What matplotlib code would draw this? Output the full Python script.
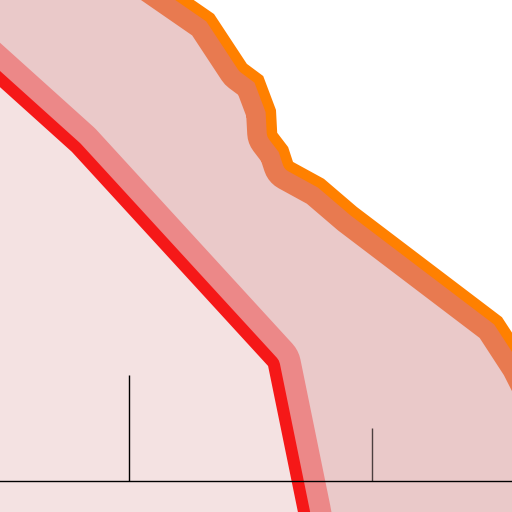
"""Two glowing boundary curves over shaded bands, with baseline and stems."""
import matplotlib
matplotlib.use("Agg")
import matplotlib.pyplot as plt

# boundary curves (data units)
red_x = [-1.44, 1.06, 4.29, 4.78, 4.88]
red_y = [8.79, 6.21, 2.17, -0.58, -1.21]

orange_x = [1.52, 3.40, 3.94, 4.21, 4.42, 4.44, 4.62, 4.70, 5.21, 5.75, 8.14, 8.60, 9.10]
orange_y = [10.30, 8.81, 7.87, 7.64, 7.00, 6.57, 6.30, 6.02, 5.70, 5.17, 3.09, 2.28, 1.15]

# stems on the baseline
stem_x = [2.0, 6.0]
stem_h = [2.0, 1.0]
stem_colors = ["#000000", "#4d3f3f"]


def main() -> None:
    fig = plt.figure(figsize=(5.12, 5.12), dpi=100)
    ax = fig.add_axes([0, 0, 1, 1])
    ax.set_facecolor("#eac9c9")
    for spine in ax.spines.values():
        spine.set_visible(False)
    ax.set_xticks([])
    ax.set_yticks([])

    # thick edged fills: the edge stroke is the glow, half of it is then
    # hidden by the covering fills drawn on top
    red_layers = [("#ec8888", 47.5), ("#f51818", 17.3)]
    for color, lw in red_layers:
        ax.fill_between(red_x, -5, red_y, facecolor=color, edgecolor=color,
                        lw=lw, joinstyle="round", zorder=2)
    orange_layers = [("#e87a50", 43.2), ("#ff8000", 15.1)]
    for color, lw in orange_layers:
        ax.fill_between(orange_x, orange_y, 20, facecolor=color, edgecolor=color,
                        lw=lw, joinstyle="round", zorder=2)

    ax.fill_between(red_x, -5, red_y, color="#f4e2e2", lw=0, zorder=4)
    ax.fill_between(orange_x, orange_y, 20, color="white", lw=0, zorder=4)

    for x, h, c in zip(stem_x, stem_h, stem_colors):
        ax.vlines(x, 0, h, color=c, lw=1.0, zorder=5)
    ax.axhline(0, color="black", lw=1.0, zorder=6)

    ax.set_xlim(-0.123, 8.305)
    ax.set_ylim(-0.585, 9.075)
    fig.savefig("out.png", dpi=100, facecolor="white")
    plt.close(fig)


if __name__ == "__main__":
    main()
